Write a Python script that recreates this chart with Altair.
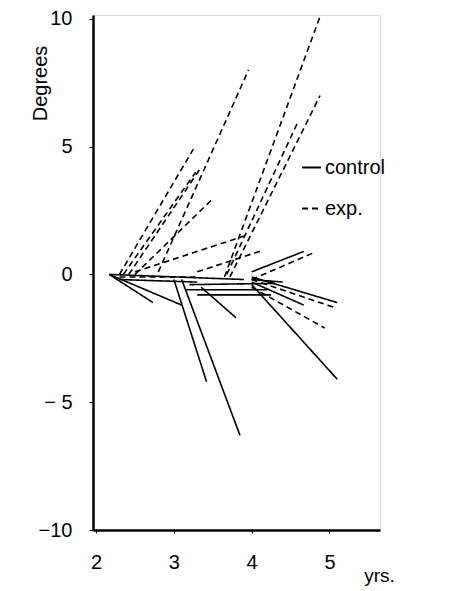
import altair as alt
import pandas as pd

# Control subjects (solid): start age/degree -> end age/degree
ctrl_start_age = [2.17, 2.17, 2.17, 2.30, 3.00, 3.10, 3.20, 3.15, 3.30, 3.35, 4.00, 4.00, 4.00, 4.00, 4.00]
ctrl_start_deg = [0.0, 0.0, 0.0, -0.2, -0.2, -0.2, -0.4, -0.6, -0.8, -0.5, 0.1, -0.1, -0.3, -0.4, -0.2]
ctrl_end_age = [2.73, 3.10, 3.90, 3.30, 3.42, 3.85, 4.30, 4.20, 4.25, 3.80, 4.67, 5.10, 4.67, 5.10, 4.40]
ctrl_end_deg = [-1.1, -1.2, -0.2, -0.3, -4.2, -6.3, -0.35, -0.6, -0.8, -1.7, 0.9, -1.1, -1.2, -4.1, -0.3]

# Experimental subjects (dashed)
exp_start_age = [2.30, 2.35, 2.42, 2.50, 2.80, 2.50, 3.30, 2.30, 3.65, 3.72, 3.68, 4.00, 4.00, 4.00]
exp_start_deg = [0.0, 0.0, 0.0, 0.0, 0.1, 0.1, 0.1, -0.1, -0.1, -0.1, 0.0, -0.2, -0.2, -0.5]
exp_end_age = [3.25, 3.28, 3.33, 3.48, 3.96, 3.90, 4.15, 3.30, 4.88, 4.88, 4.60, 4.80, 5.07, 4.94]
exp_end_deg = [4.9, 4.0, 4.1, 2.9, 8.0, 1.5, 0.95, -0.1, 10.1, 7.0, 6.0, 0.85, -1.3, -2.1]

groups = ["control", "exp."]
x_ticks = [2, 3, 4, 5]
y_ticks = [-10, -5, 0, 5, 10]

rows = []
sets = [
    (groups[0], ctrl_start_age, ctrl_start_deg, ctrl_end_age, ctrl_end_deg),
    (groups[1], exp_start_age, exp_start_deg, exp_end_age, exp_end_deg),
]
for g, sa, sd, ea, ed in sets:
    for i in range(len(sa)):
        sid = f"{g}{i}"
        rows.append({"id": sid, "group": g, "age": sa[i], "deg": sd[i], "o": 0})
        rows.append({"id": sid, "group": g, "age": ea[i], "deg": ed[i], "o": 1})
df = pd.DataFrame(rows)

FONT = "Liberation Sans"

lines = alt.Chart(df).mark_line(strokeWidth=1.6, color="black").encode(
    x=alt.X("age:Q",
            scale=alt.Scale(domain=[1.96, 5.65], nice=False, zero=False),
            axis=alt.Axis(values=x_ticks, title="yrs.", grid=False, domainWidth=2.5,
                          domainColor="black", tickColor="black", tickSize=3,
                          labelFontSize=20, labelPadding=19, labelColor="black",
                          titleFontSize=19, titleFontWeight="normal", titleColor="black",
                          titleX=286, titleY=51, titleAlign="center", titleBaseline="alphabetic",
                          labelFont=FONT, titleFont=FONT)),
    y=alt.Y("deg:Q",
            scale=alt.Scale(domain=[-10, 10.15], nice=False, zero=False),
            axis=alt.Axis(values=y_ticks, title="Degrees", grid=False, domainWidth=2.5,
                          domainColor="black", tickColor="black", tickSize=4,
                          labelFontSize=20, labelPadding=17, labelColor="black",
                          labelExpr="datum.value == -5 ? '\u2212 5' : datum.value == -10 ? '\u221210' : datum.label",
                          titleFontSize=20, titleFontWeight="normal", titleColor="black",
                          titleX=-53, titleY=68, titleAlign="center", titleBaseline="middle",
                          labelFont=FONT, titleFont=FONT)),
    detail="id:N",
    order="o:Q",
    strokeDash=alt.StrokeDash("group:N",
                              scale=alt.Scale(domain=groups, range=[[1, 0], [6, 4]]),
                              legend=alt.Legend(title=None, orient="none", legendX=208, legendY=142,
                                                symbolType="stroke", symbolSize=360,
                                                symbolStrokeWidth=1.8, symbolStrokeColor="black",
                                                labelFontSize=20, labelFont=FONT, labelColor="black",
                                                rowPadding=20, labelOffset=3)),
)

chart = lines.properties(
    width=287, height=515,
    padding={"left": 85, "top": 7, "right": 72, "bottom": 56},
    autosize="none",
).configure_view(stroke=None).configure(background="white")

chart.save("out.html", embed_options={"renderer": "svg", "actions": False})
